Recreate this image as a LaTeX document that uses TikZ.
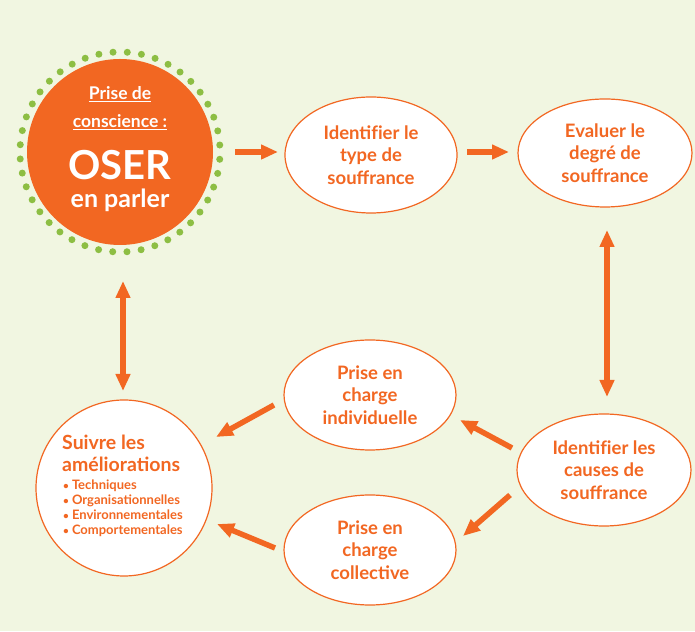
\documentclass[tikz,border=0pt]{standalone}
\usepackage{fontspec}
\setmainfont{Lato}
\usetikzlibrary{shapes.geometric,arrows.meta,calc}
\definecolor{orng}{RGB}{242,103,34}
\definecolor{bgc}{RGB}{241,246,225}
\definecolor{dotg}{RGB}{141,190,67}
\newcommand{\fnoli}{f\kern0pt i}
\newcommand{\smbul}{{\fontsize{10}{10}\selectfont•}\hspace{3pt}}
\begin{document}
\begin{tikzpicture}[x=1pt,y=1pt,
  ell/.style={ellipse, draw=orng, line width=1.2pt, fill=white, inner sep=0pt,
    font=\fontsize{18.5}{22.5}\selectfont\bfseries, text=orng, align=center},
  wtxt/.style={text=white, anchor=base, inner sep=0pt},
  otxt/.style={text=orng, anchor=base west, inner sep=0pt},
  arr/.style={line width=5.5pt, draw=orng, -{Triangle[length=17pt,width=14pt,fill=orng]}},
  darr/.style={line width=5.5pt, draw=orng, {Triangle[length=17pt,width=14pt,fill=orng]}-{Triangle[length=17pt,width=14pt,fill=orng]}}
]
\fill[bgc] (0,0) rectangle (695,631);
\useasboundingbox (0,0) rectangle (695,631);

% big circle
\node[circle, fill=orng, minimum size=186pt, inner sep=0pt] (O) at (120,479) {};
\foreach \a in {0,...,43}
  \fill[dotg] (O.center) ++(\a*360/44+4:100pt) circle (3.5pt);
\node[wtxt, font=\fontsize{17.5}{20}\selectfont\bfseries] (o1) at ($(O.center)+(0,52)$) {\underline{Prise de}};
\node[wtxt, font=\fontsize{17.5}{20}\selectfont\bfseries] (o2) at ($(O.center)+(0,24)$) {\underline{conscience :}};
\node[wtxt, font=\fontsize{40}{42}\selectfont\bfseries] (o3) at ($(O.center)+(0,-28)$) {OSER};
\node[wtxt, font=\fontsize{25}{27}\selectfont\bfseries] (o4) at ($(O.center)+(0,-56)$) {en parler};

% ellipses
\node[ell, minimum width=172pt, minimum height=116pt] (t) at (371,476) {Identi\fnoli er le\\type de\\souffrance};
\node[ell, minimum width=174pt, minimum height=108pt] (e) at (605,478) {Evaluer le\\degré de\\souffrance};
\node[ell, minimum width=174pt, minimum height=112pt] (c) at (604,161) {Identi\fnoli er les\\causes de\\souffrance};
\node[ell, minimum width=172pt, minimum height=110pt] (i) at (370,236) {Prise en\\charge\\individuelle};
\node[ell, minimum width=172pt, minimum height=110pt] (k) at (370,81) {Prise en\\charge\\collective};

% suivre circle
\node[circle, draw=orng, line width=1.2pt, fill=white, minimum size=176pt, inner sep=0pt] (s) at (124,143) {};
\node[otxt, font=\fontsize{19.5}{22}\selectfont\bfseries] (s1) at (62,181) {Suivre les};
\node[otxt, font=\fontsize{19.5}{22}\selectfont\bfseries] (s2) at (62,159) {améliorations};
\node[otxt, font=\fontsize{13}{15}\selectfont\bfseries] (s3) at (63,141) {\smbul Techniques};
\node[otxt, font=\fontsize{13}{15}\selectfont\bfseries] (s4) at (63,126) {\smbul Organisationnelles};
\node[otxt, font=\fontsize{13}{15}\selectfont\bfseries] (s5) at (63,111) {\smbul Environnementales};
\node[otxt, font=\fontsize{13}{15}\selectfont\bfseries] (s6) at (63,96) {\smbul Comportementales};

% arrows
\draw[arr] ($(O.center)+(115,0)$) -- ($(t.center)+(-93,3)$);
\draw[arr] ($(t.center)+(96,3)$) -- ($(e.center)+(-96,1)$);
\draw[darr] ($(e.center)+(2,-77)$) -- ($(c.center)+(3,73)$);
\draw[darr] ($(O.center)+(3,-129)$) -- ($(s.center)+(-1,97)$);
\draw[arr] ($(c.center)+(-92,22)$) -- ($(i.center)+(90,-25)$);
\draw[arr] ($(c.center)+(-94,-25)$) -- ($(k.center)+(93,14)$);
\draw[arr] ($(i.center)+(-96,-10)$) -- ($(s.center)+(92,51)$);
\draw[arr] ($(k.center)+(-95,2)$) -- ($(s.center)+(93,-36)$);
\end{tikzpicture}
\end{document}
